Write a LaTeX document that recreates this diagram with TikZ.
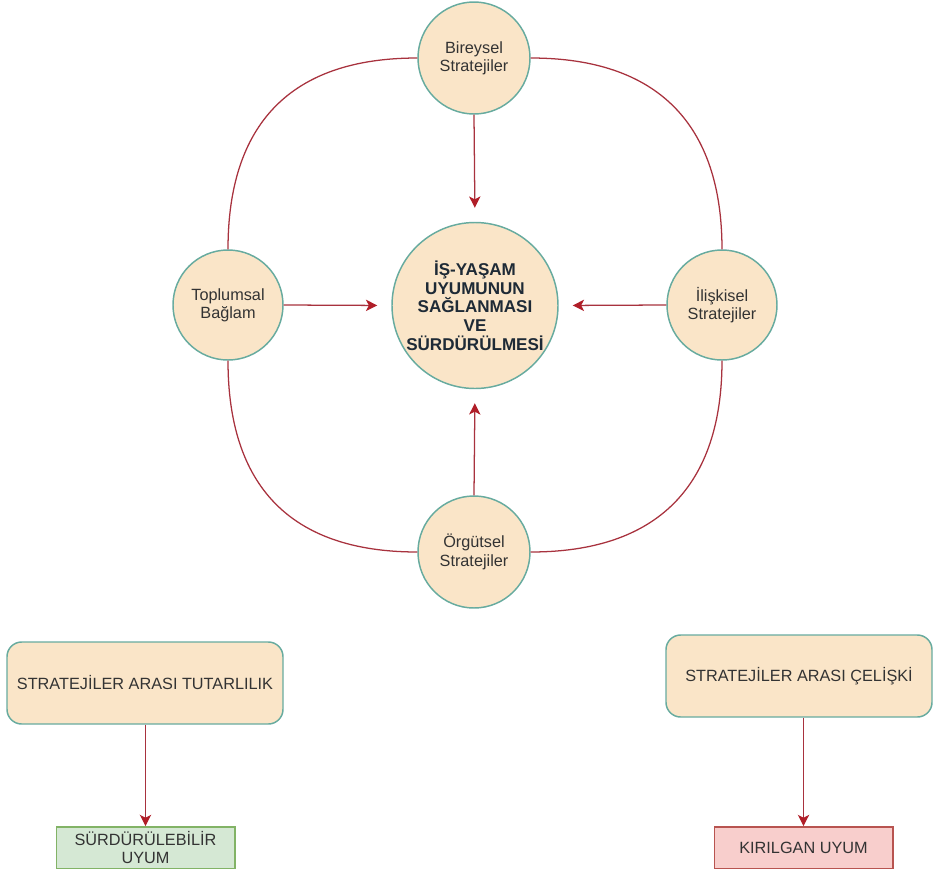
\documentclass[tikz,border=0pt]{standalone}
\usepackage{fontspec}
\setmainfont{Liberation Sans}
\usetikzlibrary{arrows.meta,calc}
\definecolor{peach}{HTML}{FAE5C8}
\definecolor{tealline}{HTML}{67AB9F}
\definecolor{linered}{HTML}{A8323E}
\definecolor{arrowred}{HTML}{B01E28}
\definecolor{txtgray}{HTML}{333333}
\definecolor{txtdark}{HTML}{1E2A36}
\definecolor{greenfill}{HTML}{D5E8D4}
\definecolor{greenline}{HTML}{82B366}
\definecolor{redfill}{HTML}{F8CECC}
\definecolor{redline}{HTML}{B85450}
\newcommand{\dfont}{\fontsize{12.2}{13.7}\selectfont}
\newcommand{\cfont}{\fontsize{12.8}{14}\selectfont\bfseries}
\tikzset{
  circnode/.style={circle, draw=tealline, line width=1.1pt, fill=peach, text=txtgray,
    font=\dfont, align=center, inner sep=0pt},
  boxnode/.style={rectangle, rounded corners=11pt, draw=tealline, line width=1.1pt, fill=peach,
    text=txtgray, font=\dfont, align=center, minimum height=61.5pt},
  resnode/.style={rectangle, line width=1pt, text=txtgray, font=\dfont, align=center,
    minimum width=134pt, minimum height=31pt, inner sep=1pt},
  conn/.style={draw=linered, line width=0.95pt},
  arr/.style={conn, -{Stealth[length=8.5pt,width=8.5pt,inset=2.2pt,color=arrowred,fill=arrowred]}},
}
\begin{document}
\begin{tikzpicture}[x=0.75pt,y=-0.75pt]
\useasboundingbox (0,0) rectangle (933,872);
% circles
\node[circnode, minimum size=84pt] (bir) at (474,58) {Bireysel\\Stratejiler};
\node[circnode, minimum size=82.5pt] (top) at (228,305) {Toplumsal\\Bağlam};
\node[circnode, minimum size=82.5pt] (ili) at (722,305) {İlişkisel\\Stratejiler};
\node[circnode, minimum size=84pt] (org) at (474,552) {Örgütsel\\Stratejiler};
\node[circnode, minimum size=124.5pt, text=txtdark, font=\cfont] (mid) at (475,305.5)
  {İŞ-YAŞAM\\UYUMUNUN\\SAĞLANMASI\\VE\\SÜRDÜRÜLMESİ};
% curves
\draw[conn] (bir.west) .. controls +(-128,0) and +(0,-124) .. (top.north);
\draw[conn] (bir.east) .. controls +(128,0) and +(0,-124) .. (ili.north);
\draw[conn] (top.south) .. controls +(0,124) and +(-128,0) .. (org.west);
\draw[conn] (ili.south) .. controls +(0,124) and +(128,0) .. (org.east);
% arrows to center
\draw[arr, shorten >=10.5pt] (bir.south) -- (mid.north);
\draw[arr, shorten >=10.5pt] (top.east) -- (mid.west);
\draw[arr, shorten >=10.5pt] (ili.west) -- (mid.east);
\draw[arr, shorten >=10.5pt] (org.north) -- (mid.south);
% bottom boxes
\node[boxnode, minimum width=207pt] (lbox) at (145,683) {STRATEJİLER ARASI TUTARLILIK};
\node[boxnode, minimum width=199.5pt] (rbox) at (799,676) {STRATEJİLER ARASI ÇELİŞKİ};
\node[resnode, draw=greenline, fill=greenfill] (lres) at (145.5,847.5) {SÜRDÜRÜLEBİLİR\\UYUM};
\node[resnode, draw=redline, fill=redfill] (rres) at (803.5,847.5) {KIRILGAN UYUM};
\draw[arr] (lres.north |- lbox.south) -- (lres.north);
\draw[arr] (rres.north |- rbox.south) -- (rres.north);
\end{tikzpicture}
\end{document}
